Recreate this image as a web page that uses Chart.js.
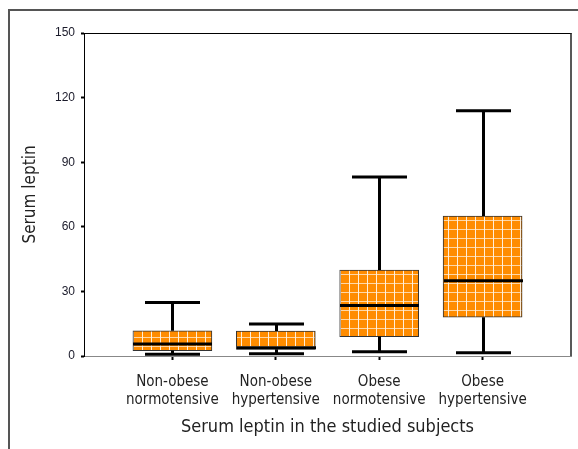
<!DOCTYPE html>
<html>
<head>
<meta charset="utf-8">
<script src="https://cdn.jsdelivr.net/npm/chart.js@4/dist/chart.umd.min.js"></script>
<style>
html,body{margin:0;padding:0;background:#fff;}
#wrap{position:relative;width:578px;height:449px;}
</style>
</head>
<body>
<div id="wrap"><canvas id="c" width="578" height="449"></canvas></div>
<script>
// ---- data ----
const categories = [
  ['Non-obese', 'normotensive'],
  ['Non-obese', 'hypertensive'],
  ['Obese', 'normotensive'],
  ['Obese', 'hypertensive']
];
const positions   = [1, 2, 3, 4];
const whiskerLow  = [0.8, 1.1, 2.0, 1.5];
const quartile1   = [2.5, 3.0, 9.0, 18.0];
const medians     = [5.6, 3.8, 23.4, 35.0];
const quartile3   = [11.7, 11.6, 39.9, 65.0];
const whiskerHigh = [24.9, 14.9, 83.1, 113.9];
const yTicks      = [0, 30, 60, 90, 120, 150];

const NARROW = "'Liberation Sans Narrow', 'DejaVu Sans Condensed', sans-serif";

// orange pattern with white grid lines
function makePattern() {
  const p = document.createElement('canvas');
  p.width = 9; p.height = 9;
  const g = p.getContext('2d');
  g.fillStyle = '#FF8C00';
  g.fillRect(0, 0, 9, 9);
  g.fillStyle = 'rgba(255,255,255,0.85)';
  g.fillRect(7, 0, 1, 9);
  g.fillStyle = 'rgba(255,240,220,0.75)';
  g.fillRect(0, 4, 9, 1);
  return document.getElementById('c').getContext('2d').createPattern(p, 'repeat');
}

const boxPlugin = {
  id: 'boxExtras',
  beforeDraw(chart) {
    const ctx = chart.ctx;
    ctx.save();
    ctx.fillStyle = '#fff';
    ctx.fillRect(0, 0, chart.width, chart.height);
    // outer frame
    ctx.strokeStyle = '#555';
    ctx.lineWidth = 2;
    ctx.beginPath();
    ctx.moveTo(9, chart.height);
    ctx.lineTo(9, 10);
    ctx.lineTo(chart.width, 10);
    ctx.stroke();
    ctx.restore();
  },
  afterDraw(chart) {
    const ctx = chart.ctx;
    const a = chart.chartArea;
    ctx.save();
    ctx.strokeStyle = '#000';
    ctx.lineWidth = 1;
    ctx.beginPath();
    ctx.moveTo(a.left, a.top + 0.5);
    ctx.lineTo(a.right + 0.5, a.top + 0.5);
    ctx.stroke();
    ctx.strokeStyle = '#222';
    ctx.lineWidth = 1.5;
    ctx.beginPath();
    ctx.moveTo(a.right, a.top);
    ctx.lineTo(a.right, a.bottom);
    ctx.stroke();
    ctx.restore();
  },
  afterDatasetsDraw(chart) {
    const ctx = chart.ctx;
    const xs = chart.scales.x, ys = chart.scales.y;
    ctx.save();
    ctx.strokeStyle = '#000';
    ctx.lineCap = 'butt';
    const capHalf = 27.5;
    const boxHalf = 39.5;
    positions.forEach((p, i) => {
      const x = Math.round(xs.getPixelForValue(p)) + 0.5;
      const yLo = ys.getPixelForValue(whiskerLow[i]);
      const yQ1 = ys.getPixelForValue(quartile1[i]);
      const yMd = ys.getPixelForValue(medians[i]);
      const yQ3 = ys.getPixelForValue(quartile3[i]);
      const yHi = ys.getPixelForValue(whiskerHigh[i]);
      ctx.lineWidth = 3;
      ctx.beginPath();
      ctx.moveTo(x, yQ3); ctx.lineTo(x, yHi);
      ctx.moveTo(x, yQ1); ctx.lineTo(x, yLo);
      ctx.moveTo(x - capHalf, yHi); ctx.lineTo(x + capHalf, yHi);
      ctx.moveTo(x - capHalf, yLo); ctx.lineTo(x + capHalf, yLo);
      ctx.moveTo(x - boxHalf, yMd); ctx.lineTo(x + boxHalf, yMd);
      ctx.stroke();
    });
    ctx.restore();
  }
};

const ctx = document.getElementById('c').getContext('2d');
new Chart(ctx, {
  type: 'bar',
  data: {
    datasets: [{
      data: positions.map((p, i) => ({ x: p, y: [quartile1[i], quartile3[i]] })),
      backgroundColor: makePattern(),
      borderColor: '#333',
      borderWidth: 1,
      borderSkipped: false,
      barThickness: 79
    }]
  },
  options: {
    responsive: false,
    animation: false,
    events: [],
    layout: { padding: { left: 0, top: 33, right: 7, bottom: 0 } },
    plugins: { legend: { display: false }, tooltip: { enabled: false } },
    scales: {
      x: {
        type: 'linear',
        offset: false,
        min: 0.145,
        max: 4.855,
        afterFit(s) { s.height = 93; },
        afterBuildTicks(s) { s.ticks = positions.map(v => ({ value: v })); },
        grid: { offset: false, drawOnChartArea: false, drawTicks: true, tickLength: 4, tickWidth: 2, tickColor: '#000' },
        border: { display: true, color: '#888', width: 1 },
        ticks: {
          autoSkip: false, maxRotation: 0, padding: 13,
          color: '#222',
          font: { family: NARROW, size: 15, lineHeight: 1.2 },
          callback: (v) => categories[positions.indexOf(v)]
        },
        title: {
          display: true,
          text: 'Serum leptin in the studied subjects',
          color: '#222',
          font: { family: NARROW, size: 18, lineHeight: 1.2 },
          padding: { top: 0, bottom: 11 }
        }
      },
      y: {
        min: 0, max: 150,
        afterFit(s) { s.width = 84; },
        afterBuildTicks(s) { s.ticks = yTicks.map(v => ({ value: v })); },
        grid: { drawOnChartArea: false, drawTicks: true, tickLength: 3, tickWidth: 2, tickColor: '#000' },
        border: { display: true, color: '#000', width: 1 },
        ticks: {
          padding: 6,
          color: '#1a1a2a',
          font: { family: "'Liberation Sans', Arial, sans-serif", size: 12 }
        },
        title: {
          display: true,
          text: 'Serum leptin',
          color: '#222',
          font: { family: NARROW, size: 17, lineHeight: 1.2 },
          padding: { top: 20, bottom: 0 }
        }
      }
    }
  },
  plugins: [boxPlugin]
});
</script>
</body>
</html>
